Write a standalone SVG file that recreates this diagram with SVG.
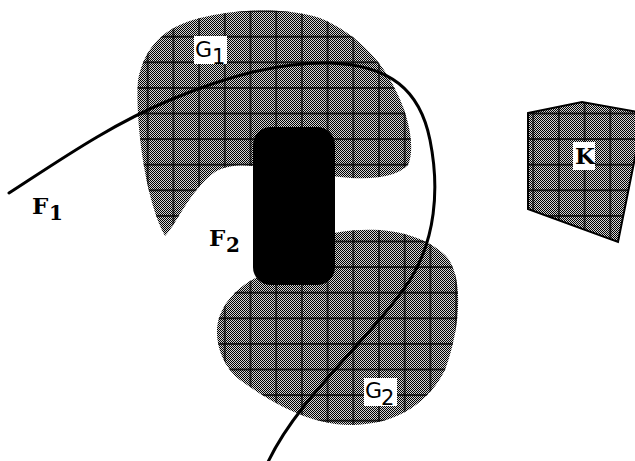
<svg xmlns="http://www.w3.org/2000/svg" width="635" height="461" viewBox="0 0 635 461">
<style>
.checker{fill:url(#checker)}
.grid{fill:url(#grid)}
.lbl{fill:#000;font-family:"DejaVu Serif",serif;font-weight:bold;font-size:23px}
.lsub{fill:#000;font-family:"DejaVu Serif",serif;font-weight:bold;font-size:20px}
.glbl{fill:#000;font-family:"DejaVu Sans",sans-serif;font-size:22px}
.gsub{fill:#000;font-family:"DejaVu Sans",sans-serif;font-size:21px}
.box{fill:#fff}
.curve{fill:none;stroke:#000;stroke-width:3;stroke-linecap:round}
</style>
<defs>
<pattern id="checker" patternUnits="userSpaceOnUse" x="0" y="0" width="2" height="2">
<rect x="0" y="0" width="2" height="2" fill="#000" shape-rendering="crispEdges"/>
<rect x="1" y="0" width="1" height="1" fill="#d4d4d4" shape-rendering="crispEdges"/>
<rect x="0" y="1" width="1" height="1" fill="#d4d4d4" shape-rendering="crispEdges"/>
</pattern>
<pattern id="grid" patternUnits="userSpaceOnUse" x="6.35" y="-1.7" width="25.7" height="25.6">
<path d="M12.85 0V25.6M0 12.8H25.7" stroke="#000" stroke-width="1.3" fill="none"/>
</pattern>
<path id="g1shape" d="M165 236C178 222 190 190 215 172C230 163 250 165 270 168L340 177C370 180 395 178 408 165C415 150 410 120 398 95C385 65 360 35 320 18C290 8 240 8 200 18C165 27 145 45 138 80C135 120 145 200 165 236Z"/>
<path id="g2shape" d="M340 232C380 226 420 232 445 255C465 275 460 330 445 370C430 400 400 425 350 425C310 425 270 402 240 380C220 365 212 335 220 315C228 295 245 282 262 275C290 255 310 236 340 232Z"/>
<path id="kshape" d="M528 113L582 102L644 113L618 242L528 209Z"/>
</defs>

<g id="G1">
<use href="#g1shape" class="checker"/>
<use href="#g1shape" class="grid"/>
<rect class="box" x="194" y="36" width="33" height="28"/>
<text class="glbl" x="195" y="57">G</text>
<text class="gsub" x="212" y="64">1</text>
</g>

<g id="G2">
<use href="#g2shape" class="checker"/>
<use href="#g2shape" class="grid"/>
<rect class="box" x="364" y="378" width="33" height="28"/>
<text class="glbl" x="365" y="398">G</text>
<text class="gsub" x="381" y="405">2</text>
</g>

<g id="F2">
<rect x="253" y="127" width="82" height="158" rx="18" ry="18" fill="#000"/>
<text class="lbl" x="209" y="246">F</text>
<text class="lsub" x="226" y="252">2</text>
</g>

<g id="K">
<use href="#kshape" class="checker"/>
<use href="#kshape" class="grid"/>
<use href="#kshape" fill="none" stroke="#000" stroke-width="2" stroke-linejoin="miter"/>
<rect class="box" x="573" y="142" width="22" height="28"/>
<text class="lbl" x="575" y="164">K</text>
</g>

<g id="connectors">
<g id="F1">
<path class="curve" d="M9 193C60 160 110 125 170 100C230 75 280 62 330 63C390 65 420 90 430 140C440 190 435 240 410 280C370 340 300 395 268 462"/>
<text class="lbl" x="32" y="214">F</text>
<text class="lsub" x="49" y="220">1</text>
</g>
</g>
</svg>
